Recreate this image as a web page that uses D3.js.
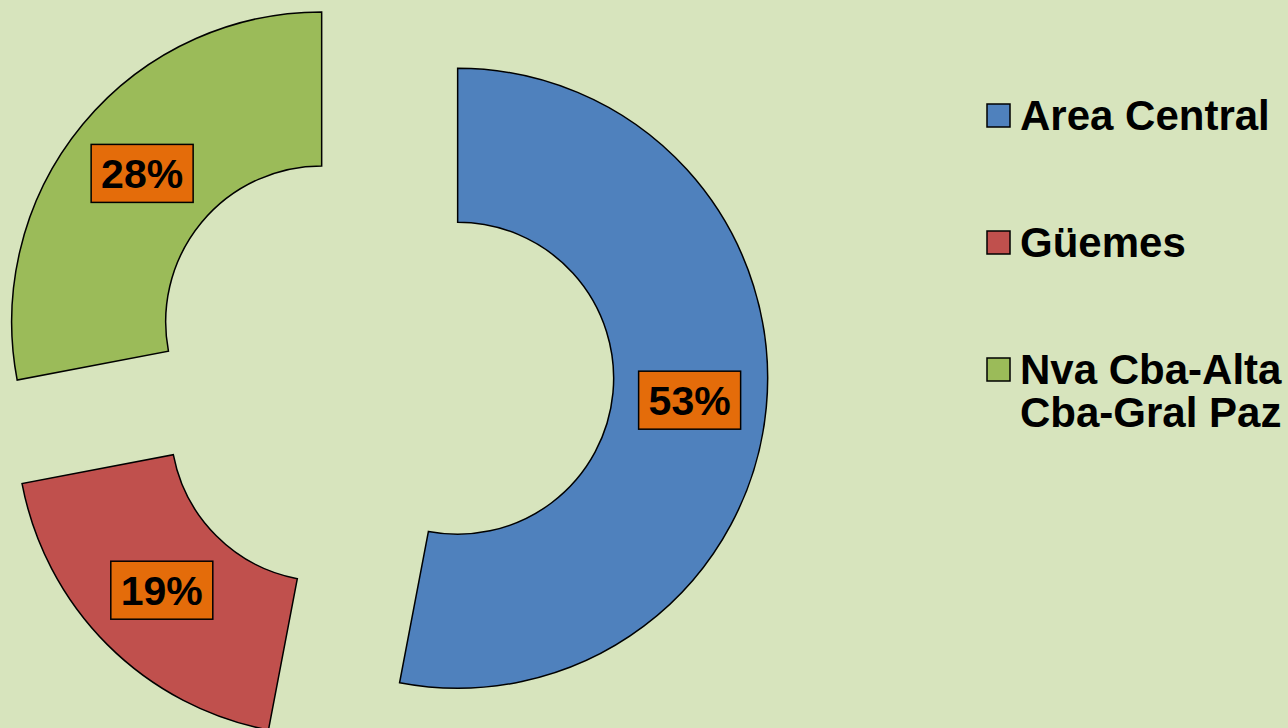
<!DOCTYPE html>
<html>
<head>
<meta charset="utf-8">
<script src="https://cdn.jsdelivr.net/npm/d3@7"></script>
<style>
  html, body { margin: 0; padding: 0; background: #D7E4BD; }
  svg { display: block; font-family: "Liberation Sans", Arial, sans-serif; }
</style>
</head>
<body>
<div id="chart"></div>
<script>
// --- DATA ---
const categories = ['Area Central', 'Güemes', 'Nva Cba-Alta Cba-Gral Paz'];
const legendLines = [['Area Central'], ['Güemes'], ['Nva Cba-Alta', 'Cba-Gral Paz']];
const values = [53, 19, 28];
const colors = ['#4F81BD', '#C0504D', '#9BBB59'];

// --- LAYOUT ---
const width = 1288, height = 728;
const cx = 381, cy = 371;
const outerR = 310, innerR = 156;
const explode = 77;

const svg = d3.select('#chart')
  .append('svg')
  .attr('width', width)
  .attr('height', height);

svg.append('rect')
  .attr('width', width).attr('height', height)
  .attr('fill', '#D7E4BD');

const pie = d3.pie().sort(null).value(d => d.value);
const arc = d3.arc().innerRadius(innerR).outerRadius(outerR);
const labelArc = d3.arc().innerRadius((innerR + outerR) / 2).outerRadius((innerR + outerR) / 2);

const data = categories.map((c, i) => ({ name: c, value: values[i], color: colors[i] }));
const arcs = pie(data);
const total = d3.sum(values);

// offset of each slice along its mid angle
function shift(d) {
  const a = (d.startAngle + d.endAngle) / 2;
  return [cx + explode * Math.sin(a), cy - explode * Math.cos(a)];
}

const slices = svg.append('g')
  .selectAll('g')
  .data(arcs)
  .enter().append('g')
    .attr('transform', d => `translate(${shift(d)})`);

slices.append('path')
  .attr('d', arc)
  .attr('fill', d => d.data.color)
  .attr('stroke', '#000')
  .attr('stroke-width', 1.5);

// --- DATA LABELS ---
const boxW = 102, boxH = 58;
const labels = slices.append('g')
  .attr('transform', d => `translate(${labelArc.centroid(d)})`);

labels.append('rect')
  .attr('x', -boxW / 2).attr('y', -boxH / 2)
  .attr('width', boxW).attr('height', boxH)
  .attr('fill', '#E46C0A')
  .attr('stroke', '#000')
  .attr('stroke-width', 1.5);

labels.append('text')
  .attr('text-anchor', 'middle')
  .attr('dy', '0.36em')
  .attr('font-size', 41)
  .attr('font-weight', 'bold')
  .attr('fill', '#000')
  .text(d => Math.round(d.data.value / total * 100) + '%');

// --- LEGEND ---
const legendY = [115, 242, 369];
const legend = svg.append('g')
  .selectAll('g')
  .data(data)
  .enter().append('g')
    .attr('transform', (d, i) => `translate(987,${legendY[i]})`);

legend.append('rect')
  .attr('x', 0).attr('y', -11)
  .attr('width', 23).attr('height', 23)
  .attr('fill', d => d.color)
  .attr('stroke', '#000')
  .attr('stroke-width', 1.5);

legend.append('text')
  .attr('x', 33)
  .attr('font-size', 42)
  .attr('font-weight', 'bold')
  .attr('fill', '#000')
  .selectAll('tspan')
  .data((d, i) => legendLines[i])
  .enter().append('tspan')
    .attr('x', 33)
    .attr('y', (d, j) => 15 + j * 43)
    .text(d => d);
</script>
</body>
</html>
